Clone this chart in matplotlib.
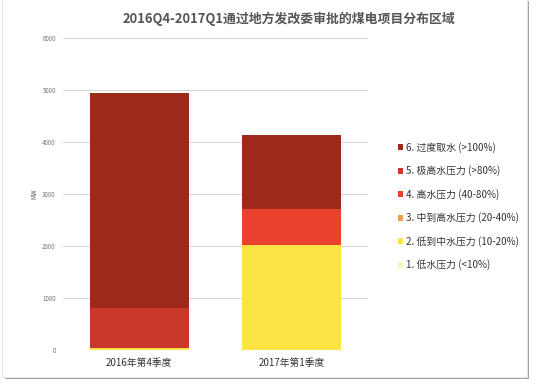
import matplotlib
matplotlib.use("Agg")
import matplotlib.pyplot as plt
from matplotlib.patches import Rectangle

plt.rcParams['font.family'] = ['Noto Sans CJK SC', 'DejaVu Sans']

quarters = ["2016年第4季度", "2017年第1季度"]
levels = ["1. 低水压力 (<10%)", "2. 低到中水压力 (10-20%)", "3. 中到高水压力 (20-40%)",
          "4. 高水压力 (40-80%)", "5. 极高水压力 (>80%)", "6. 过度取水 (>100%)"]
colors = ["#fbf3c0", "#fce444", "#f0a04b", "#e8412e", "#c9382a", "#9c2a1a"]
# MW per level, per quarter
values = [
    [0, 0],
    [40, 2010],
    [0, 0],
    [0, 700],
    [760, 0],
    [4140, 1420],
]
yticks = [0, 1000, 2000, 3000, 4000, 5000, 6000]

fig = plt.figure(figsize=(5.37, 3.86), dpi=100)
# card with shadow
fig.patches.append(Rectangle((0.010, 0.018), 0.975, 0.98, transform=fig.transFigure,
                             facecolor="#a0a0a0", edgecolor="none", zorder=-2))
fig.patches.append(Rectangle((0.004, 0.024), 0.977, 0.98, transform=fig.transFigure,
                             facecolor="white", edgecolor="#e6e6e6", linewidth=0.8, zorder=-1))

ax = fig.add_axes([0.117, 0.093, 0.568, 0.809])
ax.patch.set_alpha(0)
x = range(len(quarters))
bottom = [0, 0]
for lab, col, vals in zip(levels, colors, values):
    ax.bar(x, vals, width=0.65, bottom=bottom, color=col, label=lab, zorder=3)
    bottom = [b + v for b, v in zip(bottom, vals)]

ax.set_xlim(-0.5, 1.5)
ax.set_ylim(0, 6000)
ax.set_yticks(yticks)
ax.set_yticklabels([str(t) for t in yticks], fontsize=4.5, color="#777777")
ax.set_xticks(list(x))
ax.set_xticklabels(quarters, fontsize=7, color="#333333")
ax.tick_params(axis="x", length=0, pad=6)
ax.tick_params(axis="y", length=0, pad=5)
ax.yaxis.grid(True, color="#d9d9d9", linewidth=0.8, zorder=0)
for s in ax.spines.values():
    s.set_visible(False)
ax.set_ylabel("MW", fontsize=4.5, color="#555555", labelpad=3)

h, l = ax.get_legend_handles_labels()
leg = fig.legend(h[::-1], l[::-1], loc="upper left", bbox_to_anchor=(0.733, 0.643),
                 frameon=False, fontsize=7.1, handlelength=0.55, handleheight=0.55,
                 handletextpad=0.35, labelspacing=1.28, borderaxespad=0)
for t in leg.get_texts():
    t.set_color("#333333")

fig.text(0.538, 0.950, "2016Q4-2017Q1通过地方发改委审批的煤电项目分布区域",
         ha="center", va="center", fontsize=9.3, fontweight="bold", color="#555555")

fig.savefig("out.png", dpi=100)
